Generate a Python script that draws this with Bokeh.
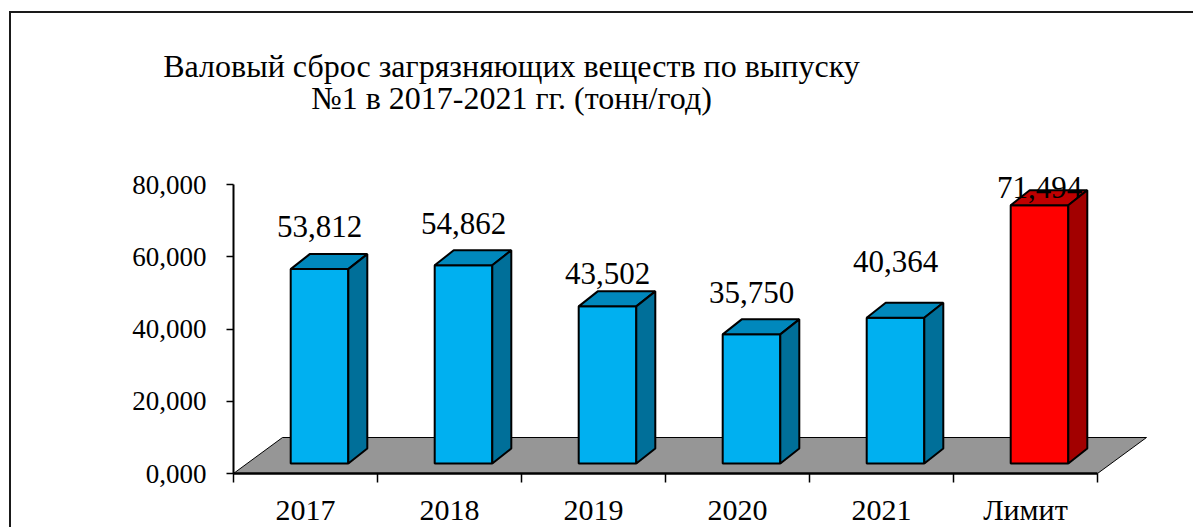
from bokeh.plotting import figure
from bokeh.models import Range1d, FixedTicker, Label
from bokeh.embed import file_html
from bokeh.resources import INLINE
from bokeh.core.properties import value

# ---------------- data ----------------
categories = ["2017", "2018", "2019", "2020", "2021", "Лимит"]
values = [53.812, 54.862, 43.502, 35.750, 40.364, 71.494]
value_labels = ["53,812", "54,862", "43,502", "35,750", "40,364", "71,494"]
y_ticks = [0, 20, 40, 60, 80]
y_tick_labels = ["0,000", "20,000", "40,000", "60,000", "80,000"]
title_lines = ["Валовый сброс загрязняющих веществ по выпуску",
               "№1 в 2017-2021 гг. (тонн/год)"]

# ---------------- styles / layout (page pixels) ----------------
front_colors = ["#00B0F0"] * 5 + ["#FF0000"]
top_colors = ["#0088BC"] * 5 + ["#C00000"]
side_colors = ["#006F99"] * 5 + ["#A20000"]
label_gap_px = [43, 42, 33, 42, 56, 18]
FONT = "'Liberation Serif', 'Times New Roman', serif"

CANVAS_X0, CANVAS_Y0 = 11, 13        # canvas origin on the page (margin + border)
FIG_W, FIG_H = 1184, 516
AXIS_X_PAGE = 233                    # page x of y-axis / first slot edge
AXIS_Y_PAGE = 473                    # page y of x-axis (value 0)
FRAME_L_PAGE = 121
FRAME_R_PAD = 8
FRAME_L = FRAME_L_PAGE - CANVAS_X0
FRAME_W = FIG_W - FRAME_L - FRAME_R_PAD
FRAME_H = FIG_H
SLOT_PX = 144.0        # pixels per category
PX_PER_UNIT = 3.6125   # pixels per tonne
px_x = 1.0 / SLOT_PX
px_y = 1.0 / PX_PER_UNIT
X_START = -0.5 - (AXIS_X_PAGE - FRAME_L_PAGE) * px_x
X_END = X_START + FRAME_W * px_x
Y_START = -(CANVAS_Y0 + FIG_H - AXIS_Y_PAGE) * px_y
Y_END = (AXIS_Y_PAGE - CANVAS_Y0) * px_y

FLOOR_DX, FLOOR_DY = 49, 36
BAR_OFF_DX, BAR_OFF_DY = 14, 10
BAR_DX, BAR_DY = 19, 15
BAR_W = 0.4

p = figure(width=FIG_W, height=FIG_H, output_backend="svg", toolbar_location=None,
           x_range=Range1d(X_START, X_END), y_range=Range1d(Y_START, Y_END),
           min_border_left=FRAME_L, min_border_right=FRAME_R_PAD,
           min_border_bottom=0, min_border_top=0)
p.outline_line_color = None
p.xgrid.visible = False
p.ygrid.visible = False
p.background_fill_color = "white"
p.border_fill_color = "white"
p.margin = (CANVAS_Y0 - 2, 0, 0, CANVAS_X0 - 2)
p.styles = {"border-top": "2px solid #1a1a1a", "border-left": "2px solid #1a1a1a"}

n = len(categories)
# floor
fx0, fx1 = -0.5, n - 0.5
p.patch([fx0, fx1, fx1 + FLOOR_DX * px_x, fx0 + FLOOR_DX * px_x],
        [0, 0, FLOOR_DY * px_y, FLOOR_DY * px_y],
        fill_color="#969696", line_color="#000000", line_width=1)

# bars
lefts, rights, bottoms, tops, centers = [], [], [], [], []
top_xs, top_ys, side_xs, side_ys = [], [], [], []
for i, v in enumerate(values):
    c = i + BAR_OFF_DX * px_x
    l, r = c - BAR_W / 2, c + BAR_W / 2
    b = BAR_OFF_DY * px_y
    t = b + v
    dx, dy = BAR_DX * px_x, BAR_DY * px_y
    lefts.append(l); rights.append(r); bottoms.append(b); tops.append(t); centers.append(c)
    top_xs.append([l, r, r + dx, l + dx]); top_ys.append([t, t, t + dy, t + dy])
    side_xs.append([r, r + dx, r + dx, r]); side_ys.append([b, b + dy, t + dy, t])

p.quad(left=lefts, right=rights, bottom=bottoms, top=tops,
       fill_color=front_colors, line_color="black", line_width=2)
p.patches(top_xs, top_ys, fill_color=top_colors, line_color="black", line_width=2)
p.patches(side_xs, side_ys, fill_color=side_colors, line_color="black", line_width=2)

# value labels
p.text(x=centers, y=[t + g * px_y for t, g in zip(tops, label_gap_px)], text=value_labels,
       text_align="center", text_baseline="alphabetic",
       text_font=value(FONT), text_font_size="31px", text_color="black")

# title (centre at page x 511, baselines at page y 65 and 97)
for k, line in enumerate(title_lines):
    p.add_layout(Label(x=-0.5 + (511 - AXIS_X_PAGE) * px_x,
                       y=(AXIS_Y_PAGE - 65 - 32 * k) * px_y,
                       text=line, text_align="center", text_baseline="alphabetic",
                       text_font=FONT, text_font_size="32px", text_color="black"))

# y axis
ya = p.yaxis[0]
ya.fixed_location = -0.5
ya.ticker = FixedTicker(ticks=y_ticks)
ya.bounds = (y_ticks[0], y_ticks[-1])
ya.major_label_overrides = dict(zip(y_ticks, y_tick_labels))
ya.minor_tick_line_color = None
ya.major_tick_out = 7
ya.major_tick_in = 0
ya.major_tick_line_width = 1.5
ya.axis_line_width = 2
ya.axis_line_color = "black"
ya.major_label_standoff = 20
ya.major_label_text_font = FONT
ya.major_label_text_font_size = "27px"
ya.major_label_text_color = "black"

# x axis
xa = p.xaxis[0]
xa.fixed_location = 0
xa.ticker = FixedTicker(ticks=list(range(n)), minor_ticks=[i - 0.5 for i in range(n + 1)])
xa.bounds = (-0.5, n - 0.5)
xa.major_label_overrides = {i: c for i, c in enumerate(categories)}
xa.major_tick_line_color = None
xa.major_tick_out = 0
xa.major_tick_in = 0
xa.minor_tick_out = 9
xa.minor_tick_in = 0
xa.minor_tick_line_color = "black"
xa.minor_tick_line_width = 1.5
xa.axis_line_width = 2.5
xa.axis_line_color = "black"
xa.major_label_standoff = 10
xa.major_label_text_font = FONT
xa.major_label_text_font_size = "30px"
xa.major_label_text_color = "black"

open("out.html", "w").write(file_html(p, INLINE))
